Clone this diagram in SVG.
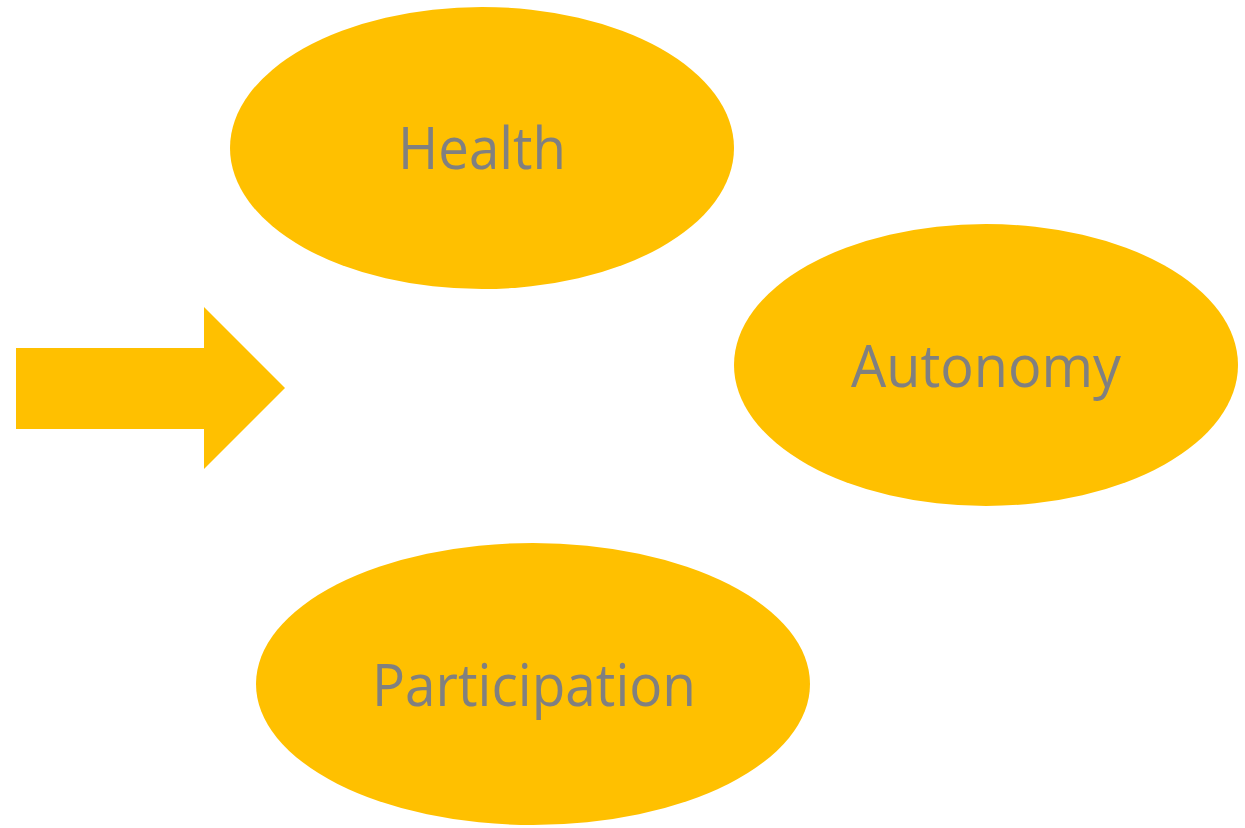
<svg xmlns="http://www.w3.org/2000/svg" width="1245" height="828" viewBox="0 0 1245 828">
  <style>
    .bubble { fill: #FFC000; }
    .label { font-family: "Open Sans", "Liberation Sans", sans-serif; font-size: 58px; fill: #808080; text-anchor: middle; }
  </style>
  <rect width="1245" height="828" fill="#FFFFFF"/>
  <g id="arrow">
    <polygon class="bubble" points="16,348 204,348 204,307 285,388 204,469 204,429 16,429"/>
  </g>
  <g id="health">
    <ellipse class="bubble" cx="482" cy="148" rx="252" ry="141"/>
    <text class="label" x="482" y="169" textLength="168" lengthAdjust="spacingAndGlyphs">Health</text>
  </g>
  <g id="autonomy">
    <ellipse class="bubble" cx="986" cy="365" rx="252" ry="141"/>
    <text class="label" x="986" y="387" textLength="270" lengthAdjust="spacingAndGlyphs">Autonomy</text>
  </g>
  <g id="participation">
    <ellipse class="bubble" cx="533" cy="684" rx="277" ry="141"/>
    <text class="label" x="534" y="706" textLength="324" lengthAdjust="spacingAndGlyphs">Participation</text>
  </g>
  <g id="connectors"></g>
</svg>
